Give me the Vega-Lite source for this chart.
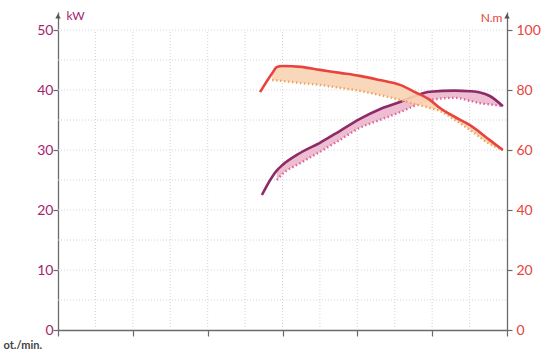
{
  "$schema": "https://vega.github.io/schema/vega-lite/v6.json",
  "width": 449,
  "height": 318,
  "autosize": {"type": "none"},
  "padding": {"left": 58, "top": 12, "right": 48, "bottom": 24},
  "background": "white",
  "config": {
    "view": {"stroke": null},
    "font": "Lato",
    "axis": {"domainColor": "#6b6b6b", "domainWidth": 1.3, "tickColor": "#6b6b6b", "tickWidth": 1.2, "grid": false}
  },
  "datasets": {
    "power": [
      {"rpm": 5.45, "s": 22.5, "d": null},
      {"rpm": 5.7, "s": 25.3, "d": null},
      {"rpm": 5.85, "s": 26.6, "d": 25.0},
      {"rpm": 6.0, "s": 27.5, "d": 26.0},
      {"rpm": 6.47, "s": 29.5, "d": 27.8},
      {"rpm": 7.0, "s": 31.2, "d": 29.7},
      {"rpm": 7.54, "s": 33.2, "d": 31.7},
      {"rpm": 8.07, "s": 35.2, "d": 33.7},
      {"rpm": 8.6, "s": 36.8, "d": 35.0},
      {"rpm": 9.14, "s": 38.0, "d": 36.3},
      {"rpm": 9.54, "s": 39.0, "d": 37.4},
      {"rpm": 9.94, "s": 39.7, "d": 38.3},
      {"rpm": 10.6, "s": 39.9, "d": 38.7},
      {"rpm": 11.01, "s": 39.8, "d": 38.2},
      {"rpm": 11.28, "s": 39.6, "d": 37.8},
      {"rpm": 11.54, "s": 39.0, "d": 37.6},
      {"rpm": 11.89, "s": 37.3, "d": 37.3}
    ],
    "torque": [
      {"rpm": 5.4, "s": 79.3, "d": null},
      {"rpm": 5.72, "s": 85.5, "d": 83.3},
      {"rpm": 5.85, "s": 87.7, "d": 83.2},
      {"rpm": 6.0, "s": 88.0, "d": 83.0},
      {"rpm": 6.5, "s": 87.7, "d": 82.3},
      {"rpm": 7.0, "s": 86.7, "d": 81.7},
      {"rpm": 7.54, "s": 85.7, "d": 80.7},
      {"rpm": 8.07, "s": 84.7, "d": 79.7},
      {"rpm": 8.6, "s": 83.3, "d": 78.3},
      {"rpm": 9.14, "s": 81.7, "d": 76.7},
      {"rpm": 9.54, "s": 79.3, "d": 75.3},
      {"rpm": 9.94, "s": 76.7, "d": 74.0},
      {"rpm": 10.21, "s": 74.0, "d": 73.0},
      {"rpm": 10.61, "s": 71.0, "d": 70.0},
      {"rpm": 11.01, "s": 68.3, "d": 66.7},
      {"rpm": 11.54, "s": 63.3, "d": 62.0},
      {"rpm": 11.89, "s": 60.0, "d": 60.0}
    ],
    "vgrid": [{"x": 1}, {"x": 2}, {"x": 3}, {"x": 4}, {"x": 5}, {"x": 6}, {"x": 7}, {"x": 8}, {"x": 9}, {"x": 10}, {"x": 11}],
    "hgrid": [{"y": 5}, {"y": 10}, {"y": 15}, {"y": 20}, {"y": 25}, {"y": 30}, {"y": 35}, {"y": 40}, {"y": 45}, {"y": 50}],
    "arrows": [{"x": 0}, {"x": 12}]
  },
  "layer": [
    {
      "layer": [
        {
          "data": {"name": "vgrid"},
          "mark": {"type": "rule", "color": "#d4d4d4", "strokeDash": [1, 2], "strokeWidth": 1},
          "encoding": {
            "x": {"field": "x", "type": "quantitative", "scale": {"domain": [0, 12], "nice": false},
              "axis": {"values": [0, 2, 4, 6, 8, 10, 12], "labels": false, "tickSize": 6, "title": "ot./min.", "titleAnchor": "start", "titleAlign": "left", "titleX": -55, "titleY": 15, "titleBaseline": "middle", "titleFontSize": 11, "titleFontWeight": "bold", "titleColor": "#444444", "titleFont": "Lato"}},
            "y": {"datum": 0, "type": "quantitative", "scale": {"domain": [0, 53], "nice": false},
              "axis": {"values": [0, 10, 20, 30, 40, 50], "tickSize": 5, "labelPadding": 0, "labelFontSize": 14, "labelColor": "#a3246e", "labelFont": "Lato", "title": "kW", "titleAngle": 0, "titleX": 8, "titleY": 3, "titleAlign": "left", "titleBaseline": "middle", "titleFontSize": 12, "titleFontWeight": "normal", "titleColor": "#a3246e"}},
            "y2": {"datum": 50}
          }
        },
        {
          "data": {"name": "hgrid"},
          "mark": {"type": "rule", "color": "#d4d4d4", "strokeDash": [1, 2], "strokeWidth": 1},
          "encoding": {
            "y": {"field": "y", "type": "quantitative"},
            "x": {"datum": 0, "type": "quantitative"},
            "x2": {"datum": 12}
          }
        },
        {
          "data": {"name": "power"},
          "transform": [{"filter": "datum.d != null"}],
          "mark": {"type": "area", "color": "#ebb7cd", "opacity": 0.9, "interpolate": "monotone"},
          "encoding": {
            "x": {"field": "rpm", "type": "quantitative"},
            "y": {"field": "s", "type": "quantitative"},
            "y2": {"field": "d"}
          }
        },
        {
          "data": {"name": "power"},
          "transform": [{"filter": "datum.d != null"}],
          "mark": {"type": "line", "color": "#e0649b", "strokeWidth": 2.4, "strokeDash": [1.5, 2.5], "interpolate": "monotone"},
          "encoding": {
            "x": {"field": "rpm", "type": "quantitative"},
            "y": {"field": "d", "type": "quantitative"}
          }
        },
        {
          "data": {"name": "power"},
          "mark": {"type": "line", "color": "#8e2a68", "strokeWidth": 2.6, "interpolate": "monotone"},
          "encoding": {
            "x": {"field": "rpm", "type": "quantitative"},
            "y": {"field": "s", "type": "quantitative"}
          }
        },
        {
          "data": {"name": "arrows"},
          "mark": {"type": "point", "shape": "triangle-up", "filled": true, "color": "#555555", "size": 30, "opacity": 1},
          "encoding": {
            "x": {"field": "x", "type": "quantitative"},
            "y": {"datum": 52.3, "type": "quantitative"}
          }
        }
      ]
    },
    {
      "layer": [
        {
          "data": {"name": "torque"},
          "transform": [{"filter": "datum.d != null"}],
          "mark": {"type": "area", "color": "#f8d3b3", "opacity": 0.9, "interpolate": "monotone"},
          "encoding": {
            "x": {"field": "rpm", "type": "quantitative"},
            "y": {"field": "s", "type": "quantitative", "scale": {"domain": [0, 106], "nice": false},
              "axis": {"orient": "right", "values": [0, 20, 40, 60, 80, 100], "tickSize": 5, "labelPadding": 4, "labelFontSize": 14, "labelColor": "#e8433d", "labelFont": "Lato", "title": "N.m", "titleAngle": 0, "titleX": -5, "titleY": 5, "titleAlign": "right", "titleBaseline": "middle", "titleFontSize": 12, "titleFontWeight": "normal", "titleColor": "#e8433d"}},
            "y2": {"field": "d"}
          }
        },
        {
          "data": {"name": "torque"},
          "transform": [{"filter": "datum.d != null"}],
          "mark": {"type": "line", "color": "#f0a45a", "strokeWidth": 2.4, "strokeDash": [1.5, 2.5], "interpolate": "monotone"},
          "encoding": {
            "x": {"field": "rpm", "type": "quantitative"},
            "y": {"field": "d", "type": "quantitative"}
          }
        },
        {
          "data": {"name": "torque"},
          "mark": {"type": "line", "color": "#e8433d", "strokeWidth": 2.6, "interpolate": "monotone"},
          "encoding": {
            "x": {"field": "rpm", "type": "quantitative"},
            "y": {"field": "s", "type": "quantitative"}
          }
        }
      ]
    }
  ],
  "resolve": {"scale": {"y": "independent"}}
}
